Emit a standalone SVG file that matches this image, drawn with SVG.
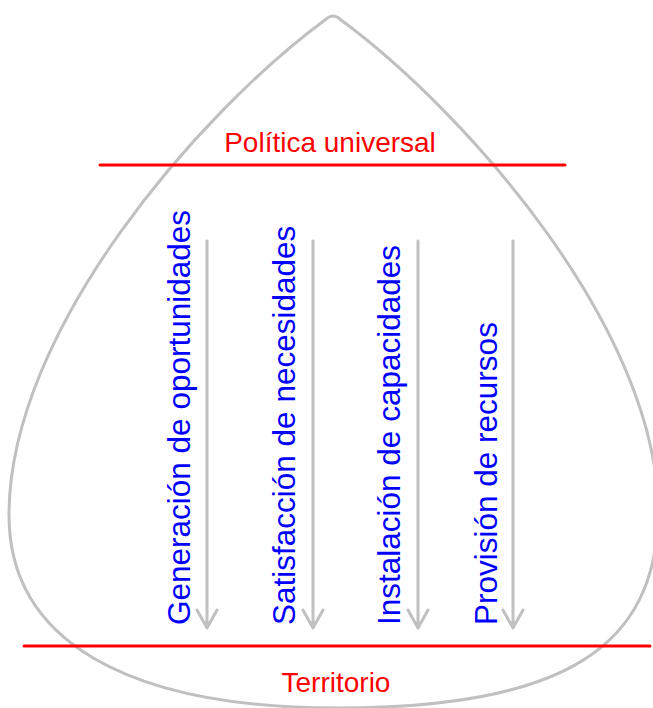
<svg xmlns="http://www.w3.org/2000/svg" width="653" height="708" viewBox="0 0 653 708">
<style>
.shape{fill:none;stroke:#c0c0c0;stroke-width:3;stroke-linejoin:round}
.red{stroke:#ff0000;stroke-width:3;stroke-linecap:round}
.arr{fill:none;stroke:#c0c0c0;stroke-width:3;stroke-linecap:round;stroke-linejoin:round}
.lbl{font-family:"Liberation Sans",Arial,sans-serif;font-size:28px;fill:#ff0000}
.vt{font-family:"Liberation Sans",Arial,sans-serif;font-size:31.5px;fill:#0000ff}
</style>
<rect width="653" height="708" fill="#ffffff"/>
<g id="drop">
<path class="shape" d="M341,20 Q333,12 325,20 C200,112 9,330 9,515 C9,639 124,708 338,708 C562,708 658,648 658,511 C658,330 466,112 341,20 Z"/>
</g>
<g id="politica">
<line class="red" x1="100" y1="165" x2="565" y2="165"/>
<text class="lbl" x="330" y="152" text-anchor="middle">Política universal</text>
</g>
<g id="territorio">
<line class="red" x1="24" y1="646" x2="650" y2="646"/>
<text class="lbl" x="336" y="692" text-anchor="middle">Territorio</text>
</g>
<g id="n1"><text class="vt" transform="translate(190,625) rotate(-90)">Generación de oportunidades</text></g>
<g id="n2"><text class="vt" transform="translate(295,625) rotate(-90)">Satisfacción de necesidades</text></g>
<g id="n3"><text class="vt" transform="translate(400,625) rotate(-90)">Instalación de capacidades</text></g>
<g id="n4"><text class="vt" transform="translate(497,625) rotate(-90)">Provisión de recursos</text></g>
<g id="connectors">
<path class="arr" d="M207,241 V628 M197,610 L207,628 L217,610"/>
<path class="arr" d="M313,241 V628 M303,610 L313,628 L323,610"/>
<path class="arr" d="M418,241 V628 M408,610 L418,628 L428,610"/>
<path class="arr" d="M513,241 V628 M503,610 L513,628 L523,610"/>
</g>
</svg>
